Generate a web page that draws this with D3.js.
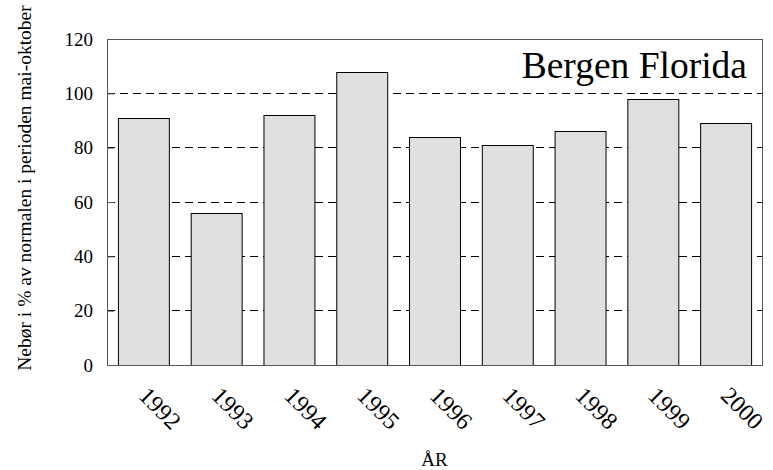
<!DOCTYPE html>
<meta charset="utf-8">
<svg width="773" height="470"></svg>
<style>
    body { margin: 0; background: #fff; }
</style>
<script src="https://cdn.jsdelivr.net/npm/d3@7"></script>
<script>
    // data
    var years = ["1992", "1993", "1994", "1995", "1996", "1997", "1998", "1999", "2000"];
    var values = [91, 56, 92, 108, 84, 81, 86, 98, 89];
    var yTicks = [0, 20, 40, 60, 80, 100, 120];
    var title = "Bergen Florida";
    var xTitle = "ÅR";
    var yTitle = "Nebør i % av normalen i perioden mai-oktober";

    var serif = "'Liberation Serif'";

    var svg = d3.select("svg"),
        margin = {top: 39, left: 107, bottom: 105, right: 11},
        width = +svg.attr("width") - margin.left - margin.right,
        height = +svg.attr("height") - margin.top - margin.bottom;

    var x = d3.scaleBand()
        .domain(years)
        .range([0, width])
        .paddingInner(0.3)
        .paddingOuter(0.15);

    var y = d3.scaleLinear()
        .domain([0, 120])
        .range([height, 0]);

    var g = svg.append("g")
        .attr("transform", "translate(" + margin.left + "," + margin.top + ")");

    // dashed grid lines
    g.append("g")
        .selectAll("line")
        .data(yTicks.filter(d => d > 0))
        .enter().append("line")
        .attr("x1", 0).attr("x2", width)
        .attr("y1", d => y(d)).attr("y2", d => y(d))
        .attr("stroke", "#000")
        .attr("stroke-dasharray", "8,5")
        .attr("shape-rendering", "crispEdges");

    // bars
    g.append("g")
        .selectAll("rect")
        .data(values)
        .enter().append("rect")
        .attr("x", (d, i) => x(years[i]) + 0.5)
        .attr("y", d => Math.round(y(d)) + 0.5)
        .attr("width", x.bandwidth())
        .attr("height", d => height - Math.round(y(d)))
        .attr("fill", "#e0e0e0")
        .attr("stroke", "#000")
        .attr("stroke-width", 1);

    // frame
    g.append("rect")
        .attr("x", 0.5).attr("y", 0.5)
        .attr("width", width).attr("height", height)
        .attr("fill", "none")
        .attr("stroke", "#555");

    // y axis with inward ticks
    var yAxis = g.append("g")
        .call(d3.axisLeft(y).tickValues(yTicks).tickSize(-7).tickPadding(14));
    yAxis.select(".domain").remove();
    yAxis.selectAll(".tick line").attr("stroke", "#555");
    yAxis.selectAll("text")
        .attr("fill", "#000")
        .style("font-family", serif)
        .style("font-size", "19px");

    // x labels, rotated
    g.append("g")
        .selectAll("text")
        .data(years)
        .enter().append("text")
        .attr("transform", d => "translate(" + (x(d) + x.bandwidth() / 2 - 6) + "," + (height + 32) + ") rotate(45)")
        .style("font-family", serif)
        .style("font-size", "24px")
        .text(d => d);

    // title in the plot
    g.append("text")
        .attr("x", width - 15)
        .attr("y", 39)
        .attr("text-anchor", "end")
        .style("font-family", serif)
        .style("font-size", "37.5px")
        .text(title);

    svg.append("text")
        .attr("x", margin.left + width / 2)
        .attr("y", 466)
        .attr("text-anchor", "middle")
        .style("font-family", serif)
        .style("font-size", "19px")
        .text(xTitle);

    svg.append("text")
        .attr("transform", "translate(31,188) rotate(-90)")
        .attr("text-anchor", "middle")
        .style("font-family", serif)
        .style("font-size", "19.5px")
        .text(yTitle);
</script>
